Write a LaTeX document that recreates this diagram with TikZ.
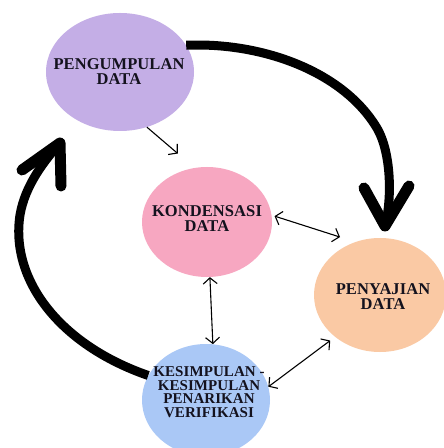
\documentclass[tikz,border=0pt]{standalone}
\usepackage{fontspec}
\setmainfont{Liberation Serif}
\newfontfamily\labfont[LetterSpace=0.5]{Liberation Serif}
\usetikzlibrary{arrows.meta,shapes.geometric}
\definecolor{cpurple}{RGB}{196,174,230}
\definecolor{cpink}{RGB}{247,167,193}
\definecolor{corange}{RGB}{250,201,164}
\definecolor{cblue}{RGB}{170,200,246}
\definecolor{ctext}{RGB}{20,18,30}
\begin{document}
\begin{tikzpicture}[x=1bp,y=-1bp,
  blob/.style={ellipse, draw=none, inner sep=0pt},
  lbl/.style={align=center, inner sep=0pt, text=ctext,
    font=\labfont\bfseries\fontsize{16.5bp}{15bp}\selectfont},
  lblsmall/.style={align=center, inner sep=0pt, text=ctext,
    font=\labfont\bfseries\fontsize{15bp}{13.6bp}\selectfont},
  thinarrow/.style={line width=1.1bp, -{Straight Barb[length=6bp,width=14bp]}},
  thinboth/.style={line width=1.1bp, {Straight Barb[length=6bp,width=14bp]}-{Straight Barb[length=6bp,width=14bp]}},
  thickarc/.style={line width=9bp},
  chev/.style={line width=11bp, line cap=round, line join=round}]
\clip (0,0) rectangle (444,448);
\fill[white] (0,0) rectangle (444,448);
% ellipses
\node[blob, fill=cpurple, minimum width=148bp, minimum height=118bp] (p) at (120,72) {};
\node[blob, fill=cpink, minimum width=130bp, minimum height=110bp] (k) at (207,222) {};
\node[blob, fill=corange, minimum width=132bp, minimum height=114bp] (o) at (380,295) {};
\node[blob, fill=cblue, minimum width=128bp, minimum height=112bp] (b) at (206,400) {};
% labels
\node[lbl] (pt) at (119,71.5) {PENGUMPULAN\\DATA};
\node[lbl] (kt) at (207,218.5) {KONDENSASI\\DATA};
\node[lbl] (ot) at (383,297) {PENYAJIAN\\DATA};
\node[lblsmall] (bt) at (209,392) {KESIMPULAN -\\KESIMPULAN\\PENARIKAN\\VERIFIKASI};
% thick arcs
\coordinate (tipR) at (385,226);
\coordinate (armRa) at (364,188);
\coordinate (armRb) at (409,186);
\draw[thickarc] (p.22) .. controls (260,42) and (340,70) .. (375,125)
  .. controls (392,150) and (392,200) .. (tipR);
\draw[chev] (armRa) -- (tipR) -- (armRb);
\coordinate (tipL) at (60,143);
\coordinate (armLa) at (22,170);
\coordinate (armLb) at (61,186);
\draw[thickarc] (b.157) .. controls (60,345) and (10,280) .. (20,215)
  .. controls (25,185) and (45,160) .. (tipL);
\draw[chev] (armLa) -- (tipL) -- (armLb);
% thin arrows
\draw[thinarrow, shorten >=22bp] (p.-64) -- (k.103);
\draw[thinboth, shorten <=3bp, shorten >=16bp] (k.6) -- (o.115);
\draw[thinboth] (k.-87) -- (b.83);
\draw[thinboth, shorten >=6bp] (b.12) -- (o.-137);
\end{tikzpicture}
\end{document}
